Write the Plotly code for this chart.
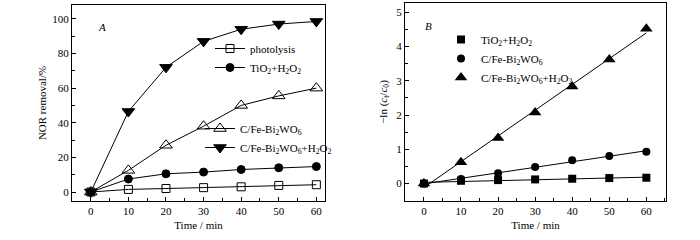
import numpy as np
import plotly.graph_objects as go

time = [0, 10, 20, 30, 40, 50, 60]

# Panel A: NOR removal (%)
photolysis = [0, 1.5, 2.0, 2.5, 3.0, 3.8, 4.2]
tio2_h2o2 = [0, 7.5, 10.5, 11.5, 13.0, 14.0, 14.7]
cfe_bwo = [0, 12.5, 27.0, 38.0, 50.0, 55.5, 60.0]
cfe_bwo_h2o2 = [0, 46.5, 72.0, 87.0, 94.0, 97.0, 98.5]

# Panel B: -ln(ct/c0)
k_tio2 = [0, 0.08, 0.10, 0.12, 0.14, 0.16, 0.17]
k_cfe = [0, 0.13, 0.30, 0.48, 0.68, 0.80, 0.93]
k_cfe_h2o2 = [0, 0.62, 1.33, 2.07, 2.83, 3.62, 4.52]

FONT = "Liberation Serif"
FS = 11
L_TIO2 = "TiO<sub>2</sub>+H<sub>2</sub>O<sub>2</sub>"
L_CFE = "C/Fe-Bi<sub>2</sub>WO<sub>6</sub>"
L_CFE_H = "C/Fe-Bi<sub>2</sub>WO<sub>6</sub>+H<sub>2</sub>O<sub>2</sub>"

fig = go.Figure()

def line_trace(y, name, symbol, legend, xaxis, yaxis, size=9):
    return go.Scatter(
        x=time, y=y, name=name, mode="lines+markers",
        line=dict(color="black", width=1),
        marker=dict(symbol=symbol, size=size, color="black",
                    line=dict(color="black", width=1)),
        legend=legend, xaxis=xaxis, yaxis=yaxis,
    )

fig.add_trace(line_trace(photolysis, "photolysis", "square-open", "legend", "x", "y", 8))
fig.add_trace(line_trace(tio2_h2o2, L_TIO2, "circle", "legend", "x", "y", 8))
fig.add_trace(line_trace(cfe_bwo, L_CFE, "triangle-up-open", "legend2", "x", "y", 11))
fig.add_trace(line_trace(cfe_bwo_h2o2, L_CFE_H, "triangle-down", "legend2", "x", "y", 11))

# Panel B: markers + linear fits
for y, name, sym, sz in [(k_tio2, L_TIO2, "square", 8),
                         (k_cfe, L_CFE, "circle", 8),
                         (k_cfe_h2o2, L_CFE_H, "triangle-up", 11)]:
    slope, icpt = np.polyfit(time, y, 1)
    fx = [time[0], time[-1]]
    fig.add_trace(go.Scatter(x=fx, y=[icpt + slope * v for v in fx], mode="lines",
                             line=dict(color="black", width=1), showlegend=False,
                             xaxis="x2", yaxis="y2", hoverinfo="skip"))
    fig.add_trace(go.Scatter(x=time, y=y, name=name, mode="markers",
                             marker=dict(symbol=sym, size=sz, color="black"),
                             legend="legend3", xaxis="x2", yaxis="y2"))

W, H = 700, 240
def px(v): return v / W
def py(v): return 1 - v / H

axis_common = dict(
    showline=True, linecolor="black", linewidth=1, mirror=True,
    ticks="inside", ticklen=4, tickcolor="black", tickwidth=1,
    showgrid=False, zeroline=False, automargin=False,
    tickfont=dict(family=FONT, size=FS, color="black"),
    title_font=dict(family=FONT, size=FS, color="black"),
    minor=dict(ticks="inside", ticklen=3, tickcolor="black", showgrid=False),
)

leg_common = dict(xanchor="left", yanchor="top", bgcolor="rgba(0,0,0,0)",
                  font=dict(family=FONT, size=FS, color="black"),
                  itemwidth=30, tracegroupgap=0, borderwidth=0)

fig.update_layout(
    width=W, height=H,
    margin=dict(l=0, r=0, t=0, b=0),
    paper_bgcolor="white", plot_bgcolor="white",
    font=dict(family=FONT, size=FS, color="black"),
    xaxis=dict(axis_common, domain=[px(72), px(325)], range=[-5, 62.3],
               dtick=10, tick0=0, minor_dtick=5, anchor="y",
               title=dict(text="Time / min", standoff=5)),
    yaxis=dict(axis_common, domain=[py(201), py(5)], range=[-5.2, 108],
               dtick=20, tick0=0, minor_dtick=10, anchor="x",
               title=dict(text="NOR removal/%", standoff=3)),
    xaxis2=dict(axis_common, domain=[px(405), px(666)], range=[-5.1, 65.3],
                dtick=10, tick0=0, minor_dtick=5, anchor="y2",
                title=dict(text="Time / min", standoff=5)),
    yaxis2=dict(axis_common, domain=[py(201), py(3)], range=[-0.51, 5.27],
                dtick=1, tick0=0, minor_dtick=0.5, anchor="x2",
                title=dict(text="−ln (<i>c</i><sub>t</sub>/<i>c</i><sub>0</sub>)", standoff=6)),
    legend=dict(leg_common, x=px(210), y=py(34)),
    legend2=dict(leg_common, x=px(200), y=py(114)),
    legend3=dict(leg_common, x=px(441), y=py(25)),
    annotations=[
        dict(text="<i>A</i>", x=px(102), y=py(27), xref="paper", yref="paper",
             xanchor="center", yanchor="middle",
             showarrow=False, font=dict(family=FONT, size=FS)),
        dict(text="<i>B</i>", x=px(428), y=py(26), xref="paper", yref="paper",
             xanchor="center", yanchor="middle",
             showarrow=False, font=dict(family=FONT, size=FS)),
    ],
)

fig.write_html("out.html", config={"displayModeBar": False},
               post_script="document.body.style.margin='0';document.body.style.overflow='hidden';")
